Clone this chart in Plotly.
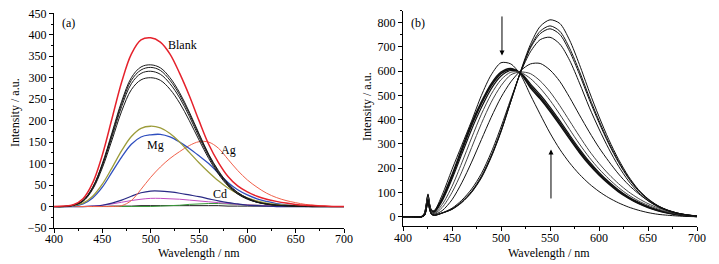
import plotly.graph_objects as go

# ---------------- Panel (a) data ----------------
wl_a = [400, 410, 420, 430, 440, 450, 460, 470, 480, 490, 500, 510, 520, 530, 540, 550,
        560, 570, 580, 590, 600, 610, 620, 630, 640, 650, 660, 670, 680, 690, 700]

blank = [0, 1, 4, 18, 55, 120, 205, 290, 355, 388, 393, 383, 355, 310, 258, 200,
         145, 103, 70, 48, 34, 24, 17, 12, 8, 5, 3, 2, 1, 0, 0]
black1 = [0, 0, 3, 14, 45, 100, 172, 245, 300, 325, 330, 323, 300, 265, 220, 170,
          122, 84, 54, 33, 20, 11, 6, 3, 2, 1, 0, 0, 0, 0, 0]
black2 = [0, 0, 3, 14, 44, 98, 168, 240, 294, 318, 324, 317, 294, 260, 216, 167,
          120, 82, 52, 32, 19, 10, 6, 3, 2, 1, 0, 0, 0, 0, 0]
black3 = [0, 0, 3, 13, 42, 95, 163, 233, 286, 310, 315, 308, 286, 253, 210, 162,
          117, 79, 50, 30, 18, 10, 6, 3, 2, 1, 0, 0, 0, 0, 0]
black4 = [0, 0, 3, 12, 40, 90, 155, 222, 272, 295, 300, 294, 273, 241, 200, 155,
          112, 76, 48, 29, 17, 10, 5, 3, 2, 1, 0, 0, 0, 0, 0]
olive = [0, 0, 2, 8, 24, 52, 90, 130, 163, 182, 187, 183, 170, 150, 126, 102,
         80, 60, 43, 30, 20, 13, 8, 5, 3, 2, 1, 0, 0, 0, 0]
mg = [0, 0, 1, 6, 20, 45, 80, 115, 145, 162, 167, 168, 162, 150, 135, 118,
      100, 78, 56, 39, 27, 18, 12, 7, 4, 2, 1, 0, 0, 0, 0]
ag = [0, 0, 0, 0, 0, 0, 0, 2, 14, 40, 68, 92, 112, 128, 142, 151,
      150, 136, 110, 84, 62, 45, 31, 21, 14, 9, 5, 3, 1, 0, 0]
navy = [0, 0, 0, 0, 1, 3, 8, 15, 24, 32, 36, 36, 34, 31, 27, 23,
        18, 13, 9, 6, 3, 2, 1, 0, 0, 0, 0, 0, 0, 0, 0]
magenta = [0, 0, 0, 0, 1, 3, 6, 10, 14, 17, 19, 19, 18, 17, 15, 13,
           11, 9, 7, 5, 4, 3, 2, 1, 1, 0, 0, 0, 0, 0, 0]
green = [0, 0, 0, 0, 0, 0, 0, 0, 0, 0, 0, 1, 2, 3, 5, 6,
         7, 7, 6, 5, 4, 3, 2, 1, 1, 0, 0, 0, 0, 0, 0]
base = [0, 0, 0, 0, 0, 0, 1, 1, 1, 2, 2, 2, 2, 2, 2, 2,
        2, 2, 1, 1, 1, 1, 1, 0, 0, 0, 0, 0, 0, 0, 0]

series_a = [
    ("Baseline", base, "#1a1a1a", 1.0),
    ("Green", green, "#3a9a3a", 1.0),
    ("Magenta", magenta, "#c04cc0", 1.0),
    ("Navy", navy, "#2a2a85", 1.2),
    ("Ag", ag, "#f0604a", 1.0),
    ("Mg", mg, "#2f4fbf", 1.3),
    ("Olive", olive, "#9c9c3a", 1.3),
    ("K4", black4, "#1a1a1a", 1.0),
    ("K3", black3, "#1a1a1a", 1.0),
    ("K2", black2, "#1a1a1a", 1.0),
    ("K1", black1, "#1a1a1a", 1.0),
    ("Blank", blank, "#e5222c", 1.5),
]

# ---------------- Panel (b) data ----------------
wl_b = [400, 410, 419, 422, 424, 425.5, 427, 429, 432,
        440, 450, 460, 470, 480, 490, 500, 510, 520, 530, 540, 550, 560, 570,
        580, 590, 600, 610, 620, 630, 640, 650, 660, 670, 680, 690, 700]

b_A = [0, 0, 0, 15, 60, 94, 55, 28, 26,
       90, 195, 295, 395, 500, 585, 635, 630, 585, 502, 422, 345, 278, 222,
       175, 136, 104, 78, 57, 40, 27, 17, 10, 6, 3, 1, 0]
b_B1 = [0, 0, 0, 12, 52, 88, 50, 24, 22,
        76, 172, 280, 385, 474, 548, 596, 611, 590, 532, 486, 435, 379, 321,
        265, 215, 172, 135, 103, 77, 55, 38, 25, 15, 8, 4, 1]
b_B2 = [0, 0, 0, 12, 50, 86, 48, 23, 21,
        72, 165, 272, 376, 466, 540, 590, 607, 592, 540, 494, 443, 387, 329,
        272, 221, 177, 139, 106, 79, 57, 40, 26, 16, 9, 4, 1]
b_B3 = [0, 0, 0, 11, 49, 84, 47, 22, 19,
        65, 155, 258, 360, 450, 527, 580, 603, 594, 548, 503, 452, 396, 337,
        280, 228, 183, 144, 110, 82, 60, 42, 28, 17, 9, 4, 1]
b_C1 = [0, 0, 0, 10, 48, 82, 46, 20, 16,
        50, 125, 222, 325, 423, 505, 565, 596, 595, 570, 530, 480, 422, 360,
        300, 245, 197, 156, 120, 90, 66, 47, 32, 20, 11, 5, 2]
b_C2 = [0, 0, 0, 9, 45, 78, 43, 17, 13,
        38, 100, 185, 285, 384, 472, 540, 585, 597, 590, 560, 515, 458, 395,
        332, 272, 220, 175, 136, 103, 76, 54, 37, 24, 14, 7, 3]
b_D = [0, 0, 0, 8, 42, 72, 40, 14, 10,
       25, 70, 140, 225, 318, 410, 492, 556, 602, 630, 632, 605, 558, 492,
       420, 350, 285, 228, 176, 132, 96, 66, 43, 27, 15, 8, 3]
b_E = [0, 0, 0, 6, 38, 68, 36, 12, 7,
       16, 35, 68, 114, 178, 265, 370, 485, 595, 680, 730, 740, 712, 645,
       552, 452, 362, 280, 208, 148, 101, 66, 41, 24, 13, 6, 2]
b_F = [0, 0, 0, 6, 36, 66, 34, 11, 6,
       15, 32, 62, 105, 167, 252, 356, 477, 596, 695, 755, 775, 752, 682,
       588, 484, 388, 300, 223, 159, 108, 71, 44, 26, 14, 7, 3]
b_G = [0, 0, 0, 6, 35, 64, 33, 10, 6,
       15, 31, 60, 102, 163, 248, 352, 475, 598, 700, 765, 787, 765, 695,
       600, 494, 396, 306, 228, 162, 110, 72, 45, 27, 15, 7, 3]
b_H = [0, 0, 0, 5, 34, 62, 32, 10, 5,
       15, 30, 58, 100, 160, 245, 350, 475, 600, 710, 785, 812, 797, 728,
       628, 517, 413, 318, 236, 167, 113, 74, 46, 27, 15, 7, 3]

series_b = [
    (b_A, "#111111", 1.0),
    (b_B1, "#111111", 1.6),
    (b_B2, "#111111", 1.5),
    (b_B3, "#111111", 1.2),
    (b_C1, "#444444", 1.0),
    (b_C2, "#444444", 1.0),
    (b_D, "#111111", 1.0),
    (b_E, "#111111", 1.0),
    (b_F, "#111111", 1.0),
    (b_G, "#111111", 1.0),
    (b_H, "#111111", 1.0),
]

FONT = "Liberation Serif, Times New Roman, serif"

fig = go.Figure()
for name, vals, col, w in series_a:
    fig.add_trace(go.Scatter(x=wl_a, y=vals, mode="lines", name=name,
                             line=dict(color=col, width=w, shape="spline", smoothing=1.0),
                             xaxis="x", yaxis="y", showlegend=False, hoverinfo="skip"))
for vals, col, w in series_b:
    fig.add_trace(go.Scatter(x=wl_b, y=vals, mode="lines",
                             line=dict(color=col, width=w, shape="spline", smoothing=0.8),
                             xaxis="x2", yaxis="y2", showlegend=False, hoverinfo="skip"))

axis_common = dict(showline=True, linecolor="black", linewidth=1, showgrid=False,
                   zeroline=False, ticks="outside", ticklen=4, tickwidth=1,
                   automargin=False,
                   tickcolor="black", tickfont=dict(family=FONT, size=12, color="black"))

fig.update_layout(
    template="none",
    width=719, height=264,
    margin=dict(l=0, r=0, t=0, b=0, autoexpand=False),
    paper_bgcolor="white", plot_bgcolor="white",
    font=dict(family=FONT, size=12, color="black"),
    hovermode=False,
    xaxis=dict(domain=[54 / 719, 344 / 719], range=[400, 700], dtick=50, anchor="y",
               ticklabelstandoff=-4,
               minor=dict(ticks="outside", ticklen=2, dtick=25, tickcolor="black"),
               **axis_common),
    yaxis=dict(domain=[(264 - 228) / 264, (264 - 13.3) / 264], range=[-50, 450], dtick=50,
               anchor="x",
               minor=dict(ticks="outside", ticklen=2, dtick=25, tickcolor="black"),
               **axis_common),
    xaxis2=dict(domain=[403 / 719, 697 / 719], range=[400, 700], dtick=50, anchor="y2",
                ticklabelstandoff=-4,
                minor=dict(ticks="outside", ticklen=2, dtick=25, tickcolor="black"),
                **axis_common),
    yaxis2=dict(domain=[(264 - 226.4) / 264, (264 - 10.6) / 264], range=[-40, 850],
                dtick=100, anchor="x2",
                minor=dict(ticks="outside", ticklen=2, dtick=50, tickcolor="black"),
                **axis_common),
)

ann = []
def txt(x, y, s, xref="x", yref="y", size=12):
    ann.append(dict(x=x, y=y, text=s, xref=xref, yref=yref, showarrow=False,
                    xanchor="center", yanchor="middle",
                    font=dict(family=FONT, size=size, color="black")))

txt(415, 428, "(a)")
txt(533, 376, "Blank")
txt(505, 143, "Mg")
txt(580, 132, "Ag")
txt(572, 29, "Cd")
txt(415, 799, "(b)", "x2", "y2")

def ptxt(x, y, s, angle=0):
    ann.append(dict(x=x, y=y, xref="paper", yref="paper", text=s, textangle=angle,
                    xanchor="center", yanchor="middle", showarrow=False,
                    font=dict(family=FONT, size=12, color="black")))

ptxt(15 / 719, (264 - 113) / 264, "Intensity / a.u.", -90)
ptxt(367 / 719, (264 - 107) / 264, "Intensity / a.u.", -90)
ptxt(199 / 719, (264 - 252.5) / 264, "Wavelength / nm")
ptxt(549 / 719, (264 - 252.5) / 264, "Wavelength / nm")

# arrows
ann.append(dict(x=501, y=665, ax=501, ay=832, xref="x2", yref="y2", axref="x2", ayref="y2",
                showarrow=True, arrowhead=2, arrowsize=1, arrowwidth=1, arrowcolor="black", text=""))
ann.append(dict(x=551, y=277, ax=551, ay=69, xref="x2", yref="y2", axref="x2", ayref="y2",
                showarrow=True, arrowhead=2, arrowsize=1, arrowwidth=1, arrowcolor="black", text=""))

fig.update_layout(annotations=ann)
fig.write_html("out.html",
               config={"displayModeBar": False, "staticPlot": True},
               post_script="document.body.style.margin='0';document.body.style.padding='0';")
